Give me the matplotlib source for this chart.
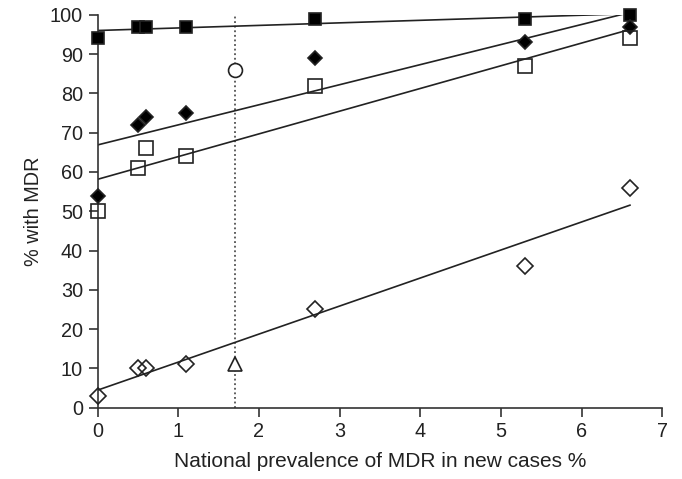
import numpy as np
import matplotlib.pyplot as plt

plt.rcParams['font.family'] = ['Liberation Sans', 'DejaVu Sans']

# national prevalence of MDR in new cases (%)
prevalence = [0, 0.5, 0.6, 1.1, 2.7, 5.3, 6.6]

filled_squares = [94, 97, 97, 97, 99, 99, 100]
filled_diamonds = [54, 72, 74, 75, 89, 93, 97]
open_squares = [50, 61, 66, 64, 82, 87, 94]
open_diamonds = [3, 10, 10, 11, 25, 36, 56]

# single points at the reference prevalence
ref_x = 1.7
circle_y = 86
triangle_y = 11

fig = plt.figure(figsize=(6.82, 4.79), dpi=100)
ax = fig.add_axes([0.143, 0.149, 0.828, 0.82])

x = np.array(prevalence)
xfit = np.array([0, 6.6])
series = [
    (filled_squares, 's', 'k', 8),
    (filled_diamonds, 'D', 'k', 7),
    (open_squares, 's', 'none', 10),
    (open_diamonds, 'D', 'none', 8.5),
]
for y, marker, face, ms in series:
    slope, icpt = np.polyfit(x, y, 1)
    ax.plot(xfit, icpt + slope * xfit, color='#222222', lw=1.2, zorder=2)
    ax.plot(x, y, linestyle='none', marker=marker, markersize=ms,
            markerfacecolor=face, markeredgecolor='#222222', markeredgewidth=1.2,
            clip_on=False, zorder=3)

ax.plot([ref_x, ref_x], [0, 100], color='#333333', lw=1.1, linestyle=(0, (1.2, 1.8)), zorder=1)
ax.plot([ref_x], [circle_y], 'o', markersize=10, markerfacecolor='white',
        markeredgecolor='#222222', markeredgewidth=1.2, zorder=3)
ax.plot([ref_x], [triangle_y], '^', markersize=10, markerfacecolor='white',
        markeredgecolor='#222222', markeredgewidth=1.2, zorder=3)

ax.set_xlim(0, 7)
ax.set_ylim(0, 100)
ax.set_xticks(range(0, 8))
ax.set_yticks(range(0, 101, 10))
for side in ['top', 'right']:
    ax.spines[side].set_visible(False)
for side in ['left', 'bottom']:
    ax.spines[side].set_color('#333333')
    ax.spines[side].set_linewidth(1.2)
ax.tick_params(direction='out', length=6.5, width=1.2, color='#333333',
               labelsize=14.3, labelcolor='#222222', pad=4)
ax.set_xlabel('National prevalence of MDR in new cases %', fontsize=15, color='#222222', labelpad=8)
ax.set_ylabel('% with MDR', fontsize=14.3, color='#222222', labelpad=5)

fig.savefig('out.png', dpi=100)
